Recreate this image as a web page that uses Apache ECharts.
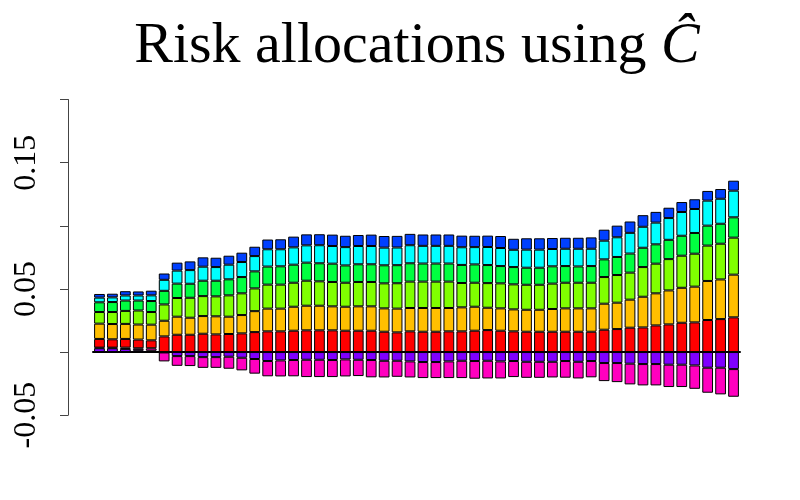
<!DOCTYPE html>
<html>
<head>
<meta charset="utf-8">
<script src="https://cdn.jsdelivr.net/npm/echarts@6/dist/echarts.min.js"></script>
<style>html,body{margin:0;padding:0;background:#fff}#c{width:800px;height:500px}</style>
</head>
<body>
<div id="c"></div>
<script>
const categories = [1,2,3,4,5,6,7,8,9,10,11,12,13,14,15,16,17,18,19,20,21,22,23,24,25,26,27,28,29,30,31,32,33,34,35,36,37,38,39,40,41,42,43,44,45,46,47,48,49,50];

const purple = [0.0030,0.0030,0.0025,0.0015,0.0010,-0.0003,-0.0032,-0.0032,-0.0040,-0.0040,
  -0.0037,-0.0045,-0.0055,-0.0071,-0.0066,-0.0063,-0.0061,-0.0061,-0.0063,-0.0058,
  -0.0061,-0.0063,-0.0069,-0.0069,-0.0074,-0.0079,-0.0079,-0.0074,-0.0069,-0.0071,
  -0.0069,-0.0074,-0.0071,-0.0077,-0.0077,-0.0077,-0.0071,-0.0077,-0.0071,-0.0087,
  -0.0087,-0.0092,-0.0095,-0.0095,-0.0100,-0.0100,-0.0106,-0.0124,-0.0124,-0.0135];
const magenta = [0.0005,0.0005,0.0010,0.0015,0.0020,-0.0071,-0.0077,-0.0079,-0.0085,-0.0085,
  -0.0095,-0.0100,-0.0116,-0.0121,-0.0127,-0.0129,-0.0137,-0.0137,-0.0135,-0.0135,
  -0.0129,-0.0137,-0.0132,-0.0127,-0.0127,-0.0127,-0.0127,-0.0132,-0.0137,-0.0140,
  -0.0140,-0.0135,-0.0127,-0.0127,-0.0127,-0.0124,-0.0132,-0.0132,-0.0129,-0.0143,
  -0.0151,-0.0164,-0.0169,-0.0169,-0.0177,-0.0177,-0.0185,-0.0198,-0.0211,-0.0219];
const red = [0.0069,0.0066,0.0069,0.0069,0.0063,0.0124,0.0137,0.0137,0.0145,0.0140,
  0.0143,0.0148,0.0158,0.0164,0.0164,0.0169,0.0172,0.0172,0.0172,0.0169,
  0.0169,0.0169,0.0161,0.0156,0.0164,0.0161,0.0161,0.0164,0.0164,0.0169,
  0.0174,0.0169,0.0164,0.0161,0.0161,0.0161,0.0161,0.0161,0.0161,0.0177,
  0.0182,0.0193,0.0195,0.0211,0.0219,0.0232,0.0235,0.0254,0.0261,0.0275];
const orange = [0.0121,0.0121,0.0119,0.0119,0.0124,0.0124,0.0143,0.0135,0.0140,0.0143,
  0.0137,0.0145,0.0166,0.0180,0.0180,0.0190,0.0195,0.0195,0.0190,0.0190,
  0.0193,0.0193,0.0185,0.0188,0.0185,0.0188,0.0188,0.0185,0.0190,0.0190,
  0.0177,0.0177,0.0174,0.0174,0.0174,0.0180,0.0185,0.0185,0.0185,0.0206,
  0.0209,0.0222,0.0243,0.0254,0.0269,0.0277,0.0283,0.0309,0.0314,0.0338];
const yellowGreen = [0.0092,0.0095,0.0103,0.0111,0.0100,0.0129,0.0148,0.0158,0.0158,0.0158,
  0.0169,0.0172,0.0180,0.0190,0.0190,0.0190,0.0198,0.0193,0.0193,0.0190,
  0.0193,0.0193,0.0198,0.0201,0.0209,0.0209,0.0209,0.0209,0.0193,0.0190,
  0.0195,0.0198,0.0198,0.0198,0.0198,0.0201,0.0203,0.0203,0.0203,0.0211,
  0.0219,0.0214,0.0235,0.0235,0.0248,0.0254,0.0261,0.0280,0.0283,0.0293];
const green = [0.0077,0.0079,0.0082,0.0079,0.0087,0.0108,0.0114,0.0111,0.0122,0.0124,
  0.0127,0.0129,0.0135,0.0143,0.0145,0.0143,0.0143,0.0143,0.0145,0.0137,
  0.0140,0.0140,0.0143,0.0143,0.0145,0.0143,0.0143,0.0143,0.0143,0.0145,
  0.0143,0.0137,0.0137,0.0135,0.0135,0.0137,0.0132,0.0129,0.0132,0.0140,
  0.0143,0.0151,0.0153,0.0153,0.0153,0.0158,0.0164,0.0158,0.0158,0.0161];
const cyan = [0.0037,0.0037,0.0040,0.0040,0.0045,0.0087,0.0103,0.0108,0.0111,0.0108,
  0.0116,0.0119,0.0121,0.0137,0.0135,0.0137,0.0137,0.0143,0.0140,0.0145,
  0.0145,0.0145,0.0140,0.0140,0.0143,0.0140,0.0140,0.0140,0.0140,0.0137,
  0.0143,0.0143,0.0137,0.0143,0.0143,0.0137,0.0137,0.0140,0.0137,0.0148,
  0.0156,0.0164,0.0166,0.0172,0.0172,0.0188,0.0190,0.0198,0.0198,0.0211];
const blue = [0.0029,0.0029,0.0034,0.0032,0.0037,0.0050,0.0063,0.0069,0.0074,0.0074,
  0.0071,0.0074,0.0074,0.0077,0.0079,0.0085,0.0087,0.0087,0.0090,0.0090,
  0.0087,0.0090,0.0092,0.0092,0.0090,0.0090,0.0090,0.0090,0.0092,0.0090,
  0.0090,0.0095,0.0087,0.0090,0.0090,0.0087,0.0087,0.0087,0.0090,0.0087,
  0.0092,0.0090,0.0092,0.0085,0.0082,0.0079,0.0077,0.0077,0.0077,0.0079];

const labeledTicks = [-0.05, 0.05, 0.15];

const seriesDefs = [
  ['purple', purple, '#8000FF'],
  ['magenta', magenta, '#FF00BF'],
  ['red', red, '#FF0000'],
  ['orange', orange, '#FFBF00'],
  ['yellowGreen', yellowGreen, '#80FF00'],
  ['green', green, '#00FF40'],
  ['cyan', cyan, '#00FFFF'],
  ['blue', blue, '#0040FF']
];

const chart = echarts.init(document.getElementById('c'), null, {renderer: 'canvas'});
chart.setOption({
  animation: false,
  backgroundColor: '#fff',
  title: {
    text: '{a|Risk allocations using }{b|Ĉ}',
    left: 412,
    top: 13,
    textAlign: 'center',
    textStyle: {
      fontWeight: 'normal',
      rich: {
        a: {fontFamily: 'Liberation Serif', fontWeight: 'normal', fontSize: 58, color: '#000'},
        b: {fontFamily: 'Liberation Serif', fontWeight: 'normal', fontStyle: 'italic', fontSize: 58, color: '#000'}
      }
    }
  },
  grid: {left: 93, right: 60, top: 99.5, bottom: 84.8},
  xAxis: {
    type: 'category',
    data: categories,
    axisLine: {show: true, onZero: true, lineStyle: {color: '#000', width: 2}},
    axisTick: {show: false},
    axisLabel: {show: false},
    splitLine: {show: false}
  },
  yAxis: {
    type: 'value',
    min: -0.05,
    max: 0.2,
    interval: 0.05,
    offset: 25,
    axisLine: {show: true, lineStyle: {color: '#444', width: 1}},
    axisTick: {show: true, length: 8, lineStyle: {color: '#444', width: 1}},
    splitLine: {show: false},
    axisLabel: {
      rotate: 90,
      margin: 25,
      fontFamily: 'Liberation Serif',
      fontSize: 32,
      color: '#000',
      formatter: function (v) {
        for (const t of labeledTicks) {
          if (Math.abs(v - t) < 1e-9) return String(t);
        }
        return '';
      }
    }
  },
  series: seriesDefs.map(function (d) {
    return {
      name: d[0],
      type: 'bar',
      stack: 'total',
      data: d[1],
      barCategoryGap: '17%',
      itemStyle: {color: d[2], borderColor: '#000', borderWidth: 1}
    };
  })
});
</script>
</body>
</html>
